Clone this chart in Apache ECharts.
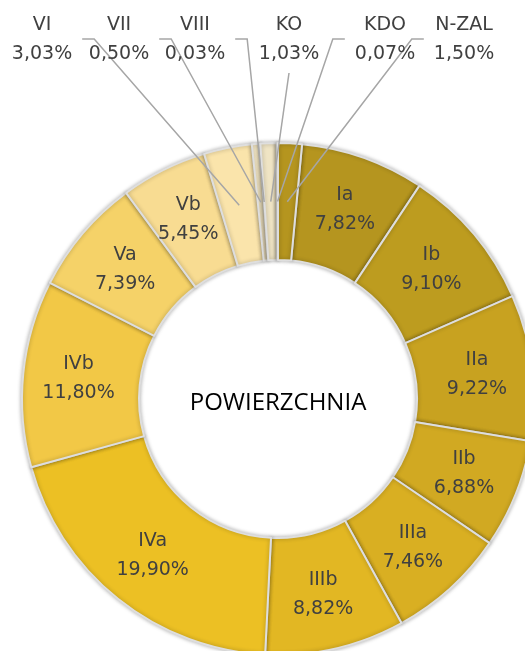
<!DOCTYPE html>
<html>
<head>
<meta charset="utf-8">
<script src="https://cdn.jsdelivr.net/npm/echarts@6/dist/echarts.min.js"></script>
<style>
html,body{margin:0;padding:0;background:#fff}
#chart{width:525px;height:651px}
</style>
</head>
<body>
<div id="chart"></div>
<script>
// klasy gruntow i udzial w powierzchni (%)
var classes = ['Ia','Ib','IIa','IIb','IIIa','IIIb','IVa','IVb','Va','Vb','VI','VII','VIII','KO','KDO','N-ZAL'];
var shares = [7.82, 9.10, 9.22, 6.88, 7.46, 8.82, 19.90, 11.80, 7.39, 5.45, 3.03, 0.50, 0.03, 1.03, 0.07, 1.50];
var colors = ['#b5951f','#bd9c1f','#c8a220','#d1a922','#d9af22','#e2b723','#ecc024','#f2c846','#f5d268','#f8dc92','#fae4ab',
              '#f6e9c6','#f3ecd8','#efe4c4','#3c3c3c','#b5951f'];

// etykiety nad wykresem (male udzialy)
var topLabelX = {'VI':42, 'VII':119, 'VIII':195, 'KO':289, 'KDO':385, 'N-ZAL':464};
var lineSide = {'VI':'right', 'VII':'right', 'VIII':'right', 'KO':'bottom', 'KDO':'left', 'N-ZAL':'left'};
var topLabelY = 40;

var cx = 278, cy = 399, r0 = 139, r1 = 256;
var rMid = (r0 + r1) / 2;

var total = shares.reduce(function(a, b){ return a + b; }, 0);
// ostatni kawalek (N-ZAL) zaczyna sie od gory
var startAngle = 90 - 360 * shares[shares.length - 1] / total;

function fmt(v){
	return v.toFixed(2).replace('.', ',') + '%';
}
function labelText(p){
	return p.name + '\n' + fmt(p.value);
}

var labelFont = {fontFamily: 'DejaVu Sans', fontSize: 19, lineHeight: 29, color: '#404040'};

// pierscien z etykietami wewnatrz
var ringData = classes.map(function(name, i){
	return {
		value: shares[i],
		name: name,
		itemStyle: {color: colors[i]},
		label: {show: topLabelX[name] == null}
	};
});
// druga, przezroczysta warstwa: etykiety u gory i linie odniesienia nad pierscieniem
var topData = classes.map(function(name, i){
	var small = topLabelX[name] != null;
	return {
		value: shares[i],
		name: name,
		label: {show: small},
		labelLine: {show: small}
	};
});

var chart = echarts.init(document.getElementById('chart'));
chart.setOption({
	animation: false,
	graphic: [{
		type: 'text',
		x: cx,
		y: cy + 4,
		style: {
			text: 'POWIERZCHNIA',
			textAlign: 'center',
			textVerticalAlign: 'middle',
			font: '24px "Open Sans"',
			fill: '#000'
		}
	}],
	series: [{
		type: 'pie',
		z: 2,
		center: [cx, cy],
		radius: [r0, r1],
		startAngle: startAngle,
		avoidLabelOverlap: false,
		itemStyle: {
			borderColor: '#dedede',
			borderWidth: 2,
			shadowBlur: 4,
			shadowColor: 'rgba(0,0,0,0.3)'
		},
		label: Object.assign({position: 'inside', formatter: labelText}, labelFont),
		labelLine: {show: false},
		data: ringData
	}, {
		type: 'pie',
		z: 3,
		silent: true,
		center: [cx, cy],
		radius: [r0, r1],
		startAngle: startAngle,
		avoidLabelOverlap: false,
		itemStyle: {color: 'rgba(0,0,0,0)', borderWidth: 0},
		label: Object.assign({position: 'outside', formatter: labelText}, labelFont),
		labelLine: {
			length: 10,
			length2: 10,
			lineStyle: {color: '#a6a6a6', width: 1.5}
		},
		labelLayout: function(params){
			var name = classes[params.dataIndex];
			if (topLabelX[name] == null || !params.labelLinePoints) return {};
			var x = topLabelX[name], y = topLabelY;
			var w = params.labelRect.width, h = params.labelRect.height;
			var p0 = params.labelLinePoints[0];
			var dx = p0[0] - cx, dy = p0[1] - cy;
			var len = Math.sqrt(dx * dx + dy * dy);
			var start = [cx + dx / len * rMid, cy + dy / len * rMid];
			var elbow, end;
			if (lineSide[name] === 'right') {
				end = [x + w / 2 + 10, y - 1];
				elbow = [end[0] + 12, end[1]];
			} else if (lineSide[name] === 'left') {
				end = [x - w / 2 - 10, y - 1];
				elbow = [end[0] - 12, end[1]];
			} else {
				end = [x, y + h / 2 + 4];
				elbow = end.slice();
			}
			return {
				x: x,
				y: y,
				align: 'center',
				verticalAlign: 'middle',
				labelLinePoints: [start, elbow, end]
			};
		},
		data: topData
	}]
});
</script>
</body>
</html>
